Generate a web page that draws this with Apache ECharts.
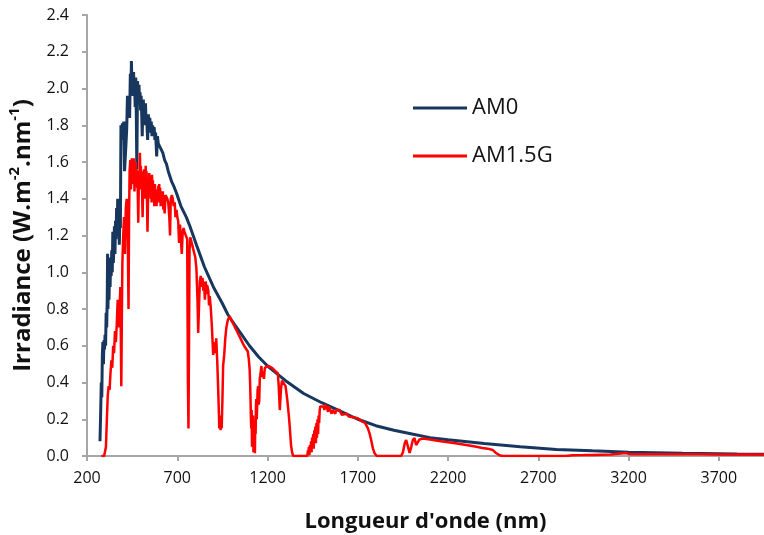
<!DOCTYPE html>
<html>
<head>
<meta charset="utf-8">
<script src="https://cdn.jsdelivr.net/npm/echarts@6/dist/echarts.min.js"></script>
<style>html,body{margin:0;padding:0;background:#fff}#c{width:764px;height:535px}</style>
</head>
<body>
<div id="c"></div>
<script>
const seriesNames = ['AM0', 'AM1.5G'];
const xTicks = [200, 700, 1200, 1700, 2200, 2700, 3200, 3700];
const yTicks = [0, 0.2, 0.4, 0.6, 0.8, 1.0, 1.2, 1.4, 1.6, 1.8, 2.0, 2.2, 2.4];

const am0 = [
[272,0.08],[276,0.25],[279,0.40],[282,0.32],[285,0.55],[288,0.62],[291,0.50],[294,0.63],[297,0.58],[300,0.66],
[303,0.60],[306,0.78],[309,0.70],[312,0.85],[314,1.10],[316,0.80],[319,0.95],[322,0.85],[325,1.02],[328,0.92],
[331,1.08],[334,0.98],[337,1.12],[340,1.00],[343,1.22],[346,1.05],[349,1.15],[352,1.25],[355,1.10],[358,1.28],
[361,1.18],[364,1.35],[367,1.20],[370,1.40],[373,1.22],[376,1.35],[379,1.15],[382,1.28],[385,1.24],[388,1.80],
[392,1.72],[396,1.81],[400,1.76],[404,1.82],[408,1.55],[412,1.56],[416,1.70],[420,1.78],[424,1.96],[428,1.86],
[432,1.90],[436,1.84],[440,2.08],[443,1.98],[446,2.15],[449,2.02],[452,2.06],[455,1.96],[458,2.09],[461,1.98],
[464,2.00],[467,1.90],[470,2.06],[473,1.86],[476,1.56],[480,2.04],[484,1.94],[488,2.02],[491,1.92],[494,1.98],
[497,1.88],[500,1.96],[503,1.86],[506,1.74],[509,1.90],[512,1.94],[515,1.84],[518,1.88],[521,1.80],[524,1.92],
[527,1.82],[530,1.86],[533,1.78],[536,1.72],[540,1.86],[544,1.78],[548,1.84],[552,1.76],[556,1.82],[560,1.74],
[564,1.80],[568,1.74],[572,1.79],[576,1.72],[580,1.76],[586,1.63],[590,1.74],[595,1.70],[600,1.71],[610,1.67],
[620,1.65],[630,1.61],[640,1.59],[650,1.55],[660,1.52],[670,1.49],[680,1.47],[696,1.43],[720,1.36],[750,1.30],
[770,1.25],[806,1.15],[850,1.03],[900,0.92],[950,0.83],[980,0.77],[1000,0.74],[1050,0.67],[1100,0.60],[1150,0.54],
[1200,0.49],[1250,0.45],[1300,0.41],[1400,0.34],[1500,0.29],[1600,0.245],[1700,0.20],[1800,0.165],[1900,0.14],
[2000,0.12],[2100,0.10],[2200,0.088],[2400,0.068],[2600,0.05],[2800,0.036],[3000,0.028],[3200,0.021],[3500,0.015],
[3800,0.011],[4000,0.009]
];

const am15g = [
[280,0],[295,0],[300,0.003],[305,0.05],[310,0.20],[315,0.33],[320,0.38],[325,0.36],[330,0.45],[335,0.52],
[340,0.48],[345,0.60],[350,0.56],[355,0.68],[360,0.62],[365,0.72],[370,0.85],[375,0.70],[380,0.80],[385,0.92],
[390,0.38],[393,0.75],[396,1.05],[400,1.18],[405,1.30],[410,1.10],[415,1.35],[420,1.40],[425,1.28],[430,0.80],
[433,1.30],[436,1.55],[440,1.61],[443,1.45],[445,1.50],[448,1.62],[450,1.60],[453,1.48],[455,1.58],[458,1.52],
[460,1.62],[463,1.44],[465,1.52],[468,1.58],[470,1.60],[473,1.50],[475,1.56],[478,1.46],[480,1.50],[484,1.27],
[488,1.55],[490,1.48],[493,1.65],[496,1.50],[498,1.58],[501,1.45],[503,1.55],[508,1.30],[512,1.52],[514,1.44],
[516,1.56],[518,1.42],[520,1.48],[523,1.40],[525,1.58],[528,1.46],[530,1.55],[535,1.22],[540,1.50],[543,1.42],
[545,1.54],[548,1.44],[550,1.52],[553,1.40],[555,1.48],[558,1.38],[560,1.53],[563,1.42],[565,1.50],[568,1.40],
[570,1.46],[573,1.36],[576,1.48],[580,1.40],[585,1.36],[590,1.45],[593,1.38],[595,1.47],[598,1.40],[600,1.48],
[603,1.38],[605,1.46],[608,1.36],[610,1.44],[615,1.40],[620,1.44],[623,1.34],[625,1.42],[630,1.32],[635,1.42],
[640,1.43],[645,1.40],[650,1.38],[656,1.30],[660,1.20],[664,1.40],[670,1.42],[675,1.40],[680,1.36],[686,1.38],
[690,1.30],[696,1.34],[700,1.30],[705,1.28],[710,1.16],[715,1.26],[720,1.18],[725,1.10],[730,1.22],[735,1.24],
[740,1.22],[745,1.22],[750,1.21],[755,1.18],[759,0.40],[762,0.15],[765,0.60],[768,1.12],[772,1.19],[780,1.16],
[790,1.12],[800,1.08],[806,1.02],[812,0.85],[816,0.67],[820,0.80],[825,0.95],[830,0.98],[835,0.92],[840,0.97],
[844,0.90],[848,0.95],[853,0.85],[858,0.95],[862,0.88],[865,0.93],[872,0.90],[876,0.82],[880,0.87],[886,0.80],
[892,0.70],[899,0.55],[904,0.62],[910,0.56],[916,0.64],[922,0.50],[928,0.32],[933,0.15],[937,0.22],[940,0.14],
[943,0.20],[946,0.15],[950,0.30],[954,0.49],[960,0.55],[966,0.64],[972,0.70],[980,0.74],[990,0.76],[1000,0.75],
[1010,0.72],[1020,0.70],[1030,0.68],[1040,0.66],[1050,0.64],[1060,0.62],[1070,0.60],[1080,0.59],[1090,0.57],[1096,0.53],
[1101,0.47],[1104,0.38],[1106,0.30],[1108,0.20],[1110,0.15],[1112,0.25],[1114,0.05],[1116,0.18],[1118,0.10],[1120,0.22],
[1122,0.02],[1124,0.14],[1126,0.06],[1128,0.20],[1130,0.015],[1132,0.18],[1134,0.12],[1136,0.28],[1138,0.31],[1140,0.20],
[1142,0.25],[1145,0.36],[1148,0.38],[1151,0.28],[1154,0.30],[1157,0.42],[1160,0.44],[1166,0.49],[1170,0.43],[1175,0.46],
[1180,0.42],[1185,0.48],[1195,0.47],[1205,0.49],[1215,0.48],[1225,0.48],[1235,0.47],[1245,0.46],[1257,0.45],[1262,0.38],
[1268,0.25],[1274,0.36],[1280,0.41],[1290,0.40],[1300,0.38],[1310,0.30],[1318,0.22],[1323,0.16],[1330,0.06],[1336,0.02],
[1342,0],[1350,0],[1420,0],[1424,0.03],[1426,0.01],[1429,0.05],[1432,0.005],[1435,0.06],[1438,0.02],[1441,0.08],
[1444,0.02],[1447,0.10],[1450,0.05],[1453,0.12],[1456,0.04],[1459,0.14],[1462,0.08],[1465,0.16],[1468,0.07],[1471,0.18],
[1474,0.10],[1477,0.20],[1480,0.12],[1483,0.22],[1486,0.18],[1489,0.25],[1492,0.27],[1500,0.28],[1510,0.27],[1515,0.25],
[1520,0.28],[1530,0.26],[1535,0.24],[1540,0.27],[1550,0.26],[1555,0.23],[1560,0.25],[1570,0.26],[1575,0.23],[1580,0.25],
[1590,0.24],[1600,0.25],[1610,0.225],[1620,0.235],[1640,0.23],[1650,0.215],[1660,0.22],[1680,0.21],[1700,0.205],[1720,0.19],
[1740,0.18],[1756,0.15],[1766,0.12],[1774,0.087],[1784,0.04],[1793,0.015],[1805,0],[1940,0],[1950,0.02],[1960,0.07],
[1968,0.087],[1978,0.05],[1987,0.016],[1996,0.05],[2005,0.087],[2014,0.098],[2023,0.06],[2032,0.06],[2042,0.09],[2060,0.095],
[2080,0.092],[2100,0.09],[2150,0.082],[2200,0.075],[2250,0.068],[2300,0.06],[2350,0.052],[2390,0.044],[2420,0.04],[2447,0.033],
[2466,0.016],[2485,0.004],[2503,0],[2850,0],[2890,0.004],[2950,0.005],[3000,0.006],[3100,0.008],[3185,0.016],[3210,0.009],
[3300,0.01],[3400,0.01],[3500,0.009],[3600,0.009],[3700,0.008],[3800,0.008],[4000,0.008]
];

const FONT = '"Open Sans", "Noto Sans", sans-serif';
const axisGray = '#a6a6a6';
const chart = echarts.init(document.getElementById('c'), null, {renderer: 'canvas'});
chart.setOption({
  animation: false,
  backgroundColor: '#ffffff',
  textStyle: {fontFamily: FONT},
  grid: {left: 87, top: 15, right: 0, bottom: 79, containLabel: false, outerBoundsMode: 'none'},
  legend: {
    orient: 'vertical', left: 413, top: 96, padding: 0,
    data: seriesNames,
    icon: 'rect', itemWidth: 54, itemHeight: 3, itemGap: 24,
    textStyle: {fontFamily: FONT, fontSize: 22, color: '#111', lineHeight: 24}
  },
  xAxis: [{
    type: 'value', min: xTicks[0], max: 3950, interval: 500,
    axisLine: {show: true, onZero: false, lineStyle: {color: axisGray, width: 2}},
    axisTick: {show: true, inside: false, length: 5, lineStyle: {color: axisGray, width: 2}},
    axisLabel: {fontFamily: FONT, fontSize: 16, color: '#111', margin: 14, showMaxLabel: false,
      formatter: v => String(v)},
    splitLine: {show: false},
    name: 'Longueur d\'onde (nm)', nameLocation: 'middle', nameGap: 55,
    nameTextStyle: {fontFamily: FONT, fontSize: 22, fontWeight: 'bold', color: '#111'}
  }, {
    type: 'value', position: 'top', min: xTicks[0], max: 3950,
    axisLine: {show: true, lineStyle: {color: axisGray, width: 2}},
    axisTick: {show: false}, axisLabel: {show: false}, splitLine: {show: false}
  }],
  yAxis: {
    type: 'value', min: yTicks[0], max: yTicks[yTicks.length - 1], interval: 0.2,
    axisLine: {show: true, lineStyle: {color: axisGray, width: 2}},
    axisTick: {show: true, inside: false, length: 5, lineStyle: {color: axisGray, width: 2}},
    axisLabel: {fontFamily: FONT, fontSize: 16, color: '#111', margin: 18, formatter: v => v.toFixed(1)},
    splitLine: {show: false},
    name: '{a|Irradiance (W.m}{s|-2}{a|.nm}{s|-1}{a|)}', nameLocation: 'middle', nameGap: 50,
    nameTextStyle: {
      fontFamily: FONT, fontSize: 24, fontWeight: 'bold', color: '#111',
      rich: {
        a: {fontFamily: FONT, fontSize: 24, fontWeight: 'bold', color: '#111', lineHeight: 28, verticalAlign: 'bottom'},
        s: {fontFamily: FONT, fontSize: 15, fontWeight: 'bold', color: '#111', lineHeight: 28, verticalAlign: 'top', padding: [0,0,10,0]}
      }
    }
  },
  series: [{
    name: seriesNames[0], type: 'line', data: am0, showSymbol: false, symbol: 'none',
    lineStyle: {color: '#17375e', width: 3}, itemStyle: {color: '#17375e'}, z: 2
  }, {
    name: seriesNames[1], type: 'line', data: am15g, showSymbol: false, symbol: 'none',
    lineStyle: {color: '#ff0000', width: 2.5}, itemStyle: {color: '#ff0000'}, z: 3
  }]
});
</script>
</body>
</html>
